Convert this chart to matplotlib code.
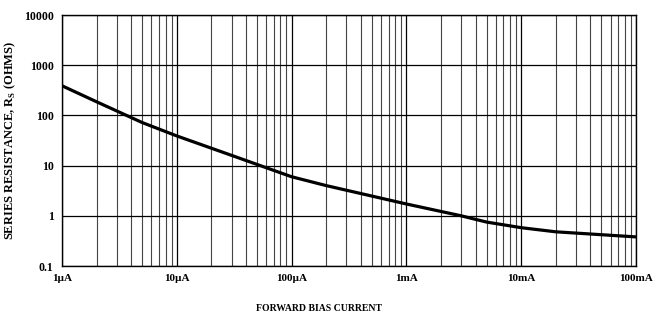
import matplotlib.pyplot as plt
import numpy as np

plt.rcParams['font.family'] = ['Liberation Serif', 'DejaVu Serif']
plt.rcParams['mathtext.fontset'] = 'custom'
plt.rcParams['mathtext.rm'] = 'Liberation Serif:bold'

# forward bias current (A) and series resistance (ohms)
current = [1e-6, 2e-6, 5e-6, 1e-5, 3e-5, 1e-4, 2e-4, 1e-3, 3e-3, 5e-3, 1e-2, 2e-2, 1e-1]
resistance = [390, 187, 72, 39, 16, 6.0, 4.0, 1.72, 1.0, 0.75, 0.58, 0.48, 0.38]

x_ticks = [1e-6, 1e-5, 1e-4, 1e-3, 1e-2, 1e-1]
x_labels = ['1µA', '10µA', '100µA', '1mA', '10mA', '100mA']
y_ticks = [0.1, 1, 10, 100, 1000, 10000]
y_labels = ['0.1', '1', '10', '100', '1000', '10000']

fig = plt.figure(figsize=(6.65, 3.18), dpi=100)
ax = fig.add_axes([0.0932, 0.1635, 0.8632, 0.7893])

ax.plot(current, resistance, color='black', lw=2.3, solid_capstyle='butt')

ax.set_xscale('log')
ax.set_yscale('log')
ax.set_xlim(1e-6, 1e-1)
ax.set_ylim(0.1, 10000)

# grid: vertical lines at every 1..9 multiple, horizontal only at decades
ax.set_xticks(x_ticks)
ax.set_xticklabels(x_labels, fontsize=8, fontweight='bold')
ax.set_yticks(y_ticks)
ax.set_yticklabels(y_labels, fontsize=8.5, fontweight='bold')
ax.xaxis.set_minor_locator(plt.matplotlib.ticker.LogLocator(base=10, subs=np.arange(2, 10)))
ax.yaxis.set_minor_locator(plt.matplotlib.ticker.NullLocator())
ax.tick_params(which='both', length=0)
ax.tick_params(axis='x', pad=6)
ax.tick_params(axis='y', pad=6)
ax.grid(which='major', axis='both', color='black', lw=0.9)
ax.grid(which='minor', axis='x', color='#444444', lw=0.8)

for s in ax.spines.values():
    s.set_color('black')
    s.set_linewidth(1.0)

ax.set_ylabel('SERIES RESISTANCE, R$_\\mathrm{S}$ (OHMS)', fontsize=9, fontweight='bold')
ax.yaxis.set_label_coords(-0.076, 0.5)
fig.text(0.48, 0.03, 'FORWARD BIAS CURRENT', fontsize=7, fontweight='bold', ha='center', va='center')

fig.savefig('out.png', dpi=100)
